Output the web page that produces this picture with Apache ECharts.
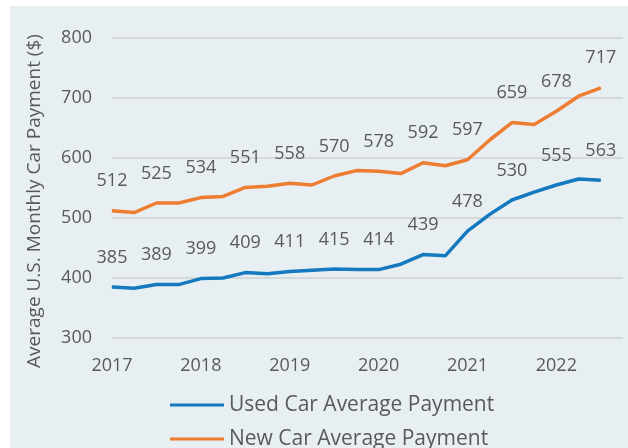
<!DOCTYPE html>
<html>
<head>
<meta charset="utf-8">
<script src="https://cdn.jsdelivr.net/npm/echarts@6/dist/echarts.min.js"></script>
<style>
  html, body { margin: 0; padding: 0; background: #fff; }
  #panel { position: absolute; left: 10px; top: 6px; width: 618px; height: 442px; background: #e7eff3; }
  #chart { position: absolute; left: 0; top: 0; width: 628px; height: 448px; }
</style>
</head>
<body>
<div id="panel"></div>
<div id="chart"></div>
<script>
// quarters 2017 Q1 .. 2022 Q4 (last one empty, axis runs to it)
var quarters = [];
var years = ['2017', '2018', '2019', '2020', '2021', '2022'];
years.forEach(function (y) {
  ['Q1', 'Q2', 'Q3', 'Q4'].forEach(function (q) { quarters.push(y + ' ' + q); });
});

var usedCar = [385, 383, 389, 389, 399, 400, 409, 407, 411, 413, 415, 414,
               414, 423, 439, 437, 478, 506, 530, 543, 555, 565, 563];
var newCar = [512, 509, 525, 525, 534, 536, 551, 553, 558, 555, 570, 579,
              578, 574, 592, 587, 597, 630, 659, 656, 678, 703, 717];

var textColor = '#595959';
var font = 'Open Sans';

// only every other point (half year) gets a label
function halfYearLabel(p) {
  return p.dataIndex % 2 === 0 ? String(p.value) : '';
}

var myChart = echarts.init(document.getElementById('chart'));
myChart.setOption({
  animation: false,
  textStyle: { fontFamily: font },
  grid: { left: 112, right: 5, top: 38, bottom: 110 },
  legend: {
    orient: 'vertical',
    left: 165,
    top: 388,
    height: 80,
    icon: 'rect',
    itemWidth: 54,
    itemHeight: 3,
    itemGap: 10,
    textStyle: { color: textColor, fontSize: 21, lineHeight: 24, fontFamily: font },
    data: ['Used Car Average Payment', 'New Car Average Payment']
  },
  xAxis: {
    type: 'category',
    boundaryGap: false,
    data: quarters,
    axisLine: { show: false },
    axisTick: { show: false },
    axisLabel: {
      interval: 0,
      margin: 19,
      color: textColor,
      fontSize: 18,
      fontFamily: font,
      formatter: function (v) { return v.indexOf('Q1') > 0 ? v.slice(0, 4) : ''; }
    }
  },
  yAxis: {
    type: 'value',
    min: 300,
    max: 800,
    interval: 100,
    name: 'Average U.S. Monthly Car Payment ($)',
    nameLocation: 'middle',
    nameRotate: 90,
    nameGap: 68,
    nameTextStyle: { color: textColor, fontSize: 19, fontFamily: font, padding: [0, 26, 0, 0] },
    axisLine: { show: false },
    axisTick: { show: false },
    axisLabel: { margin: 20, color: textColor, fontSize: 18, fontFamily: font },
    splitLine: { lineStyle: { color: '#d6d9db', width: 2 } }
  },
  series: [
    {
      name: 'Used Car Average Payment',
      type: 'line',
      data: usedCar,
      symbol: 'circle',
      symbolSize: 1,
      color: '#1479bf',
      lineStyle: { width: 3.5 },
      label: {
        show: true, position: 'top', distance: 20,
        color: textColor, fontSize: 18, fontFamily: font,
        formatter: halfYearLabel
      }
    },
    {
      name: 'New Car Average Payment',
      type: 'line',
      data: newCar,
      symbol: 'circle',
      symbolSize: 1,
      color: '#ed7d31',
      lineStyle: { width: 3.5 },
      label: {
        show: true, position: 'top', distance: 20,
        color: textColor, fontSize: 18, fontFamily: font,
        formatter: halfYearLabel
      }
    }
  ]
});
</script>
</body>
</html>
